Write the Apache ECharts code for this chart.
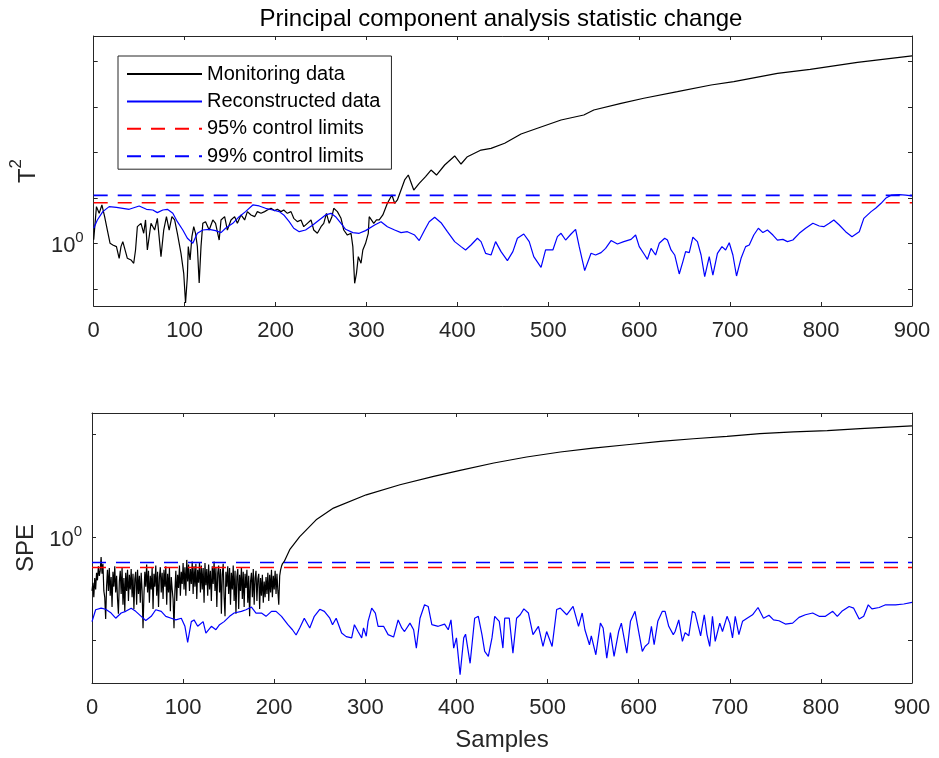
<!DOCTYPE html>
<html>
<head>
<meta charset="utf-8">
<script src="https://cdn.jsdelivr.net/npm/echarts@6/dist/echarts.min.js"></script>
<style>html,body{margin:0;padding:0;background:#fff;}#c{width:939px;height:758px;}</style>
</head>
<body>
<div id="c"></div>
<script>
// ---------------- data ----------------
const xTicks = [0, 100, 200, 300, 400, 500, 600, 700, 800, 900];
const seriesNames = ['Monitoring data', 'Reconstructed data', '95% control limits', '99% control limits'];

// T^2 statistic, monitoring data (black)
const t2MonX = [0,3,6,9,12,15,18,21,25,28,30,32,35,37,41,44,46,48,52,55,57,59,63,67,70,74,77,80,83,86,89,92,96,99,101,103,104,106,108,110,112,114,116,118,120,123,127,131,134,138,140,144,147,151,155,158,162,166,169,173,177,180,184,188,191,195,199,202,206,209,213,217,220,224,228,231,235,239,242,246,250,253,256,259,262,264,268,272,275,279,283,285,287,289,291,294,296,299,302,303,305,308,311,314,318,323,328,331,334,338,342,346,352,358,365,371,377,386,397,404,411,426,437,452,470,488,514,539,550,580,605,642,679,704,752,788,840,900];
const t2MonY = [1.2,6.40,4.56,6.96,3.85,1.96,1.00,0.919,0.845,0.468,0.845,1.09,0.656,0.468,0.430,0.364,0.714,2.32,2.75,1.66,3.26,0.714,2.75,1.96,3.54,0.509,1.96,3.85,1.96,3.85,3.26,1.66,0.603,0.219,0.0489,0.185,0.845,0.430,1.40,2.32,1.66,0.845,0.134,0.845,2.75,2.99,1.96,3.26,2.75,1.18,3.26,3.85,1.96,3.26,3.85,2.75,4.20,3.26,4.97,4.20,3.85,4.97,4.56,4.97,5.40,5.88,5.22,5.59,4.97,5.40,4.56,4.97,3.54,2.99,3.26,2.32,2.75,3.26,1.96,1.66,2.32,2.75,4.56,2.75,3.85,5.88,4.97,3.54,1.96,1.52,1.66,0.845,0.132,0.219,0.509,0.364,0.714,1.00,1.66,3.85,4.20,2.75,3.26,3.26,4.20,7.57,11.5,7.57,8.96,14.9,24.7,31.7,14.8,20.8,29.1,40.8,31.7,52.6,83.0,55.3,80,112,122,158,253,337,513,661,851,1190,1540,2150,3010,3570,5450,6670,9510,13100];

// T^2 statistic, reconstructed data (blue)
const t2RecX = [0,4,10,17,25,32,39,50,58,65,70,76,81,87,92,98,103,109,114,120,127,134,140,145,153,160,167,175,182,189,197,204,209,215,220,226,233,241,248,255,261,266,272,277,285,292,299,309,316,323,331,338,345,353,358,364,369,375,382,389,397,404,409,415,422,426,431,437,442,448,455,461,466,473,479,484,492,497,505,510,514,519,525,530,534,540,547,552,558,563,569,576,583,591,596,600,606,609,613,618,622,628,631,635,639,644,648,651,655,659,664,668,672,677,681,686,691,695,699,703,707,712,717,721,726,731,736,741,747,752,758,763,769,776,783,791,798,803,809,814,820,827,834,842,847,855,860,866,871,877,886,893,900];
const t2RecY = [2.14,3.26,4.97,6.40,6.18,5.88,5.59,6.62,5.59,5.40,4.72,5.40,5.59,4.56,2.99,1.96,1.29,1.00,1.66,1.96,2.03,1.90,1.72,2.14,2.75,3.85,4.97,6.96,6.62,5.88,5.40,4.97,4.20,2.99,2.14,1.80,1.96,2.53,3.26,4.20,4.56,3.85,2.75,2.03,1.72,1.66,1.90,2.53,2.99,2.32,1.96,1.72,1.80,1.52,1.15,1.96,2.99,3.73,2.84,1.80,1.09,0.845,0.714,0.919,1.29,1.09,0.603,0.554,1.09,0.656,0.416,0.656,1.29,1.60,1.09,0.509,0.297,0.714,0.714,1.40,1.66,1.18,1.60,2.03,0.845,0.251,0.603,0.554,0.624,0.776,1.15,0.967,1.09,1.22,1.52,0.845,0.554,0.445,0.776,0.554,1.00,1.29,1.18,0.714,0.554,0.212,0.396,0.656,0.624,1.36,1.09,0.554,0.185,0.509,0.201,0.603,0.845,0.714,1.03,0.554,0.191,0.468,0.845,0.919,1.52,2.14,1.72,1.96,1.52,1.18,1.22,1.09,1.18,1.66,2.14,2.75,2.40,2.32,2.75,3.26,2.53,1.80,1.40,1.80,3.54,4.97,5.88,7.57,9.75,11.4,11.7,11.5,11.0];

// SPE statistic, monitoring data (black): samples 0-209 one by one, then the smooth rise
const speMonX = [0,1,2,3,4,5,6,7,8,9,10,11,12,13,14,15,16,17,18,19,20,21,22,23,24,25,26,27,28,29,30,31,32,33,34,35,36,37,38,39,40,41,42,43,44,45,46,47,48,49,50,51,52,53,54,55,56,57,58,59,60,61,62,63,64,65,66,67,68,69,70,71,72,73,74,75,76,77,78,79,80,81,82,83,84,85,86,87,88,89,90,91,92,93,94,95,96,97,98,99,100,101,102,103,104,105,106,107,108,109,110,111,112,113,114,115,116,117,118,119,120,121,122,123,124,125,126,127,128,129,130,131,132,133,134,135,136,137,138,139,140,141,142,143,144,145,146,147,148,149,150,151,152,153,154,155,156,157,158,159,160,161,162,163,164,165,166,167,168,169,170,171,172,173,174,175,176,177,178,179,180,181,182,183,184,185,186,187,188,189,190,191,192,193,194,195,196,197,198,199,200,201,202,203,204,205,206,207,208,209,211,217,228,246,265,301,338,375,404,441,477,514,550,587,624,660,697,733,770,807,843,900];
const speMonY = [
  0.30,0.36,0.26,0.40,0.31,0.45,0.38,0.52,0.42,0.47,
  0.64,0.44,0.55,0.30,0.26,0.16,0.33,0.48,0.30,0.50,
  0.27,0.41,0.21,0.46,0.33,0.52,0.29,0.42,0.25,0.18,
  0.37,0.47,0.28,0.50,0.22,0.40,0.19,0.45,0.30,0.48,
  0.24,0.43,0.31,0.49,0.26,0.44,0.20,0.39,0.46,0.22,
  0.48,0.28,0.42,0.23,0.45,0.30,0.13,0.27,0.46,0.33,
  0.54,0.29,0.47,0.23,0.42,0.31,0.50,0.20,0.44,0.33,
  0.53,0.27,0.46,0.21,0.41,0.51,0.29,0.45,0.25,0.48,
  0.33,0.52,0.22,0.44,0.29,0.50,0.19,0.41,0.31,0.25,
  0.13,0.30,0.47,0.24,0.43,0.32,0.53,0.27,0.46,0.35,
  0.56,0.31,0.51,0.27,0.60,0.37,0.54,0.30,0.49,0.35,
  0.58,0.28,0.52,0.33,0.55,0.25,0.48,0.36,0.57,0.29,
  0.53,0.31,0.50,0.23,0.56,0.34,0.49,0.27,0.54,0.31,
  0.47,0.24,0.52,0.35,0.58,0.30,0.50,0.21,0.45,0.53,
  0.29,0.49,0.18,0.43,0.55,0.26,0.17,0.46,0.33,0.52,
  0.28,0.50,0.22,0.45,0.31,0.53,0.24,0.47,0.18,0.41,
  0.49,0.20,0.43,0.30,0.51,0.25,0.46,0.21,0.44,0.32,
  0.48,0.23,0.42,0.17,0.37,0.45,0.26,0.49,0.22,0.40,
  0.47,0.24,0.39,0.44,0.20,0.40,0.27,0.43,0.23,0.37,
  0.26,0.41,0.28,0.45,0.24,0.43,0.29,0.48,0.26,0.42,
  0.31,0.47,0.28,0.44,0.30,0.22,0.42,0.48,0.52,0.55,
  0.58,0.753,1.01,1.47,1.91,2.57,3.22,3.88,4.43,5.23,5.98,6.69,7.31,7.87,8.48,9.00,9.48,10.1,10.5,10.8,11.3,12.0];

// SPE statistic, reconstructed data (blue)
const speRecX = [0,4,10,15,21,26,32,37,43,48,54,59,65,70,76,81,87,92,98,102,105,109,112,116,122,125,131,136,140,145,151,156,164,169,175,180,186,191,197,202,208,215,220,224,228,233,239,244,250,255,261,264,268,274,279,285,288,292,296,298,301,303,307,311,314,320,325,331,336,340,343,349,353,356,360,365,369,373,380,387,391,394,397,400,404,408,410,415,420,424,428,431,435,439,442,447,451,453,458,462,466,470,474,479,484,490,495,499,505,510,514,521,528,534,538,541,546,548,553,558,561,565,569,573,578,581,587,591,596,600,604,607,611,614,617,621,626,629,633,638,640,644,648,651,655,659,662,668,672,675,678,681,684,689,692,697,700,703,706,710,714,719,725,731,737,743,748,754,761,769,776,783,791,798,805,813,818,823,831,836,842,847,852,856,864,871,882,891,900];
const speRecY = [0.151,0.197,0.204,0.199,0.183,0.163,0.183,0.19,0.204,0.19,0.170,0.155,0.170,0.197,0.19,0.170,0.163,0.157,0.163,0.136,0.095,0.151,0.157,0.136,0.151,0.117,0.136,0.126,0.141,0.151,0.170,0.183,0.19,0.197,0.209,0.183,0.183,0.170,0.19,0.19,0.170,0.141,0.126,0.112,0.131,0.163,0.131,0.170,0.199,0.19,0.163,0.141,0.163,0.117,0.108,0.105,0.141,0.121,0.105,0.131,0.109,0.152,0.204,0.183,0.136,0.136,0.113,0.107,0.157,0.131,0.121,0.146,0.126,0.0836,0.163,0.220,0.212,0.141,0.136,0.143,0.126,0.157,0.0836,0.105,0.046,0.105,0.114,0.0595,0.163,0.170,0.113,0.0776,0.0694,0.105,0.170,0.152,0.0836,0.163,0.163,0.0746,0.163,0.176,0.201,0.183,0.113,0.136,0.0867,0.121,0.0867,0.198,0.204,0.176,0.212,0.136,0.183,0.126,0.090,0.110,0.072,0.146,0.131,0.0668,0.118,0.0694,0.121,0.146,0.0746,0.152,0.190,0.121,0.0776,0.0867,0.0935,0.136,0.090,0.152,0.190,0.190,0.136,0.113,0.121,0.157,0.0972,0.118,0.110,0.190,0.183,0.110,0.176,0.113,0.0867,0.170,0.0972,0.146,0.121,0.170,0.146,0.105,0.170,0.113,0.152,0.163,0.176,0.207,0.163,0.174,0.157,0.154,0.143,0.146,0.166,0.176,0.183,0.170,0.170,0.190,0.170,0.190,0.212,0.204,0.160,0.170,0.220,0.201,0.207,0.220,0.220,0.224,0.232];

// control limits
const t2Limit95 = 7.8;
const t2Limit99 = 11.3;
const speLimit95 = 0.507;
const speLimit99 = 0.567;

// y-axis ranges (log scale)
const t2Range = [0.0419, 35970];
const speRange = [0.0383, 16.0];

// ---------------- chart ----------------
const FONT = 'Liberation Sans, Arial, Helvetica, sans-serif';
const AX = '#262626';
const zip = (xs, ys) => xs.map((x, i) => [x, ys[i]]);
const hLine = (v) => [[xTicks[0], v], [xTicks[xTicks.length - 1], v]];

const chart = echarts.init(document.getElementById('c'), null, {renderer: 'canvas'});

function xAxisDef(grid, pos, showLabel, name) {
  return {
    type: 'value', gridIndex: grid, position: pos, min: xTicks[0], max: xTicks[xTicks.length - 1], interval: 100,
    axisLine: {show: true, onZero: false, lineStyle: {color: AX, width: 1}},
    axisTick: {show: true, inside: true, length: 4, lineStyle: {color: AX}},
    axisLabel: {show: showLabel, fontSize: 22, color: AX, fontFamily: FONT, margin: 14},
    splitLine: {show: false},
    name: name || '', nameLocation: 'middle', nameGap: 45,
    nameTextStyle: {fontSize: 24, color: AX, fontFamily: FONT}
  };
}
const supLabel = (v) => Math.abs(v - 1) < 1e-9 ? '{b|10}{s|0}' : '';
const supRich = {
  b: {fontSize: 22, color: AX, fontFamily: FONT, verticalAlign: 'bottom', padding: [6, 0, 0, 0]},
  s: {fontSize: 15, color: AX, fontFamily: FONT, verticalAlign: 'top', padding: [1, 0, 0, 0]}
};
function yAxisDef(grid, pos, showLabel, range, name, nameRich) {
  return {
    type: 'log', logBase: 10, gridIndex: grid, position: pos, min: range[0], max: range[1], splitNumber: 5,
    axisLine: {show: true, onZero: false, lineStyle: {color: AX, width: 1}},
    axisTick: {show: true, inside: true, length: 4, lineStyle: {color: AX}},
    axisLabel: {show: showLabel, formatter: supLabel, rich: supRich, margin: 10},
    minorTick: {show: false},
    splitLine: {show: false},
    name: name || '', nameLocation: 'middle', nameGap: 50, nameRotate: 90,
    nameTextStyle: {fontSize: 24, color: AX, fontFamily: FONT, rich: nameRich || {}}
  };
}

function lineSeries(name, xi, yi, data, color, dashed) {
  return {
    name: name, type: 'line', xAxisIndex: xi, yAxisIndex: yi, data: data,
    symbol: 'none', showSymbol: false, animation: false, clip: true,
    lineStyle: {color: color, width: dashed ? 1.6 : 1.2, type: dashed ? [14, 10] : 'solid'},
    itemStyle: {color: color}
  };
}

const option = {
  backgroundColor: '#fff',
  animation: false,
  title: {
    text: 'Principal component analysis statistic change',
    left: 501, top: 7, textAlign: 'center', padding: 0,
    textStyle: {fontSize: 24, fontWeight: 'normal', color: '#000', fontFamily: FONT}
  },
  legend: {
    data: seriesNames, orient: 'vertical', left: 118, top: 56,
    padding: [8, 11, 3, 8], itemGap: 7.4, itemWidth: 75, itemHeight: 20,
    borderColor: AX, borderWidth: 1, backgroundColor: '#fff',
    itemStyle: {opacity: 0},
    textStyle: {fontSize: 20, color: '#000', fontFamily: FONT, lineHeight: 20}
  },
  grid: [
    {left: 92, right: 27, top: 36, height: 270, containLabel: false},
    {left: 92, right: 27, top: 413, height: 270, containLabel: false}
  ],
  xAxis: [
    xAxisDef(0, 'bottom', true),
    xAxisDef(0, 'top', false),
    xAxisDef(1, 'bottom', true, 'Samples'),
    xAxisDef(1, 'top', false)
  ],
  yAxis: [
    yAxisDef(0, 'left', true, t2Range, '{b|T}{s|2}', {
      b: {fontSize: 24, color: AX, fontFamily: FONT, verticalAlign: 'bottom', padding: [8, 0, 0, 0]},
      s: {fontSize: 17, color: AX, fontFamily: FONT, verticalAlign: 'top'}
    }),
    yAxisDef(0, 'right', false, t2Range),
    yAxisDef(1, 'left', true, speRange, 'SPE'),
    yAxisDef(1, 'right', false, speRange)
  ],
  series: [
    lineSeries(seriesNames[0], 0, 0, zip(t2MonX, t2MonY), '#000000', false),
    lineSeries(seriesNames[1], 0, 0, zip(t2RecX, t2RecY), '#0000ff', false),
    lineSeries(seriesNames[2], 0, 0, hLine(t2Limit95), '#ff0000', true),
    lineSeries(seriesNames[3], 0, 0, hLine(t2Limit99), '#0000ff', true),
    lineSeries(seriesNames[0], 2, 2, zip(speMonX, speMonY), '#000000', false),
    lineSeries(seriesNames[1], 2, 2, zip(speRecX, speRecY), '#0000ff', false),
    lineSeries(seriesNames[2], 2, 2, hLine(speLimit95), '#ff0000', true),
    lineSeries(seriesNames[3], 2, 2, hLine(speLimit99), '#0000ff', true)
  ]
};
chart.setOption(option);
</script>
</body>
</html>
